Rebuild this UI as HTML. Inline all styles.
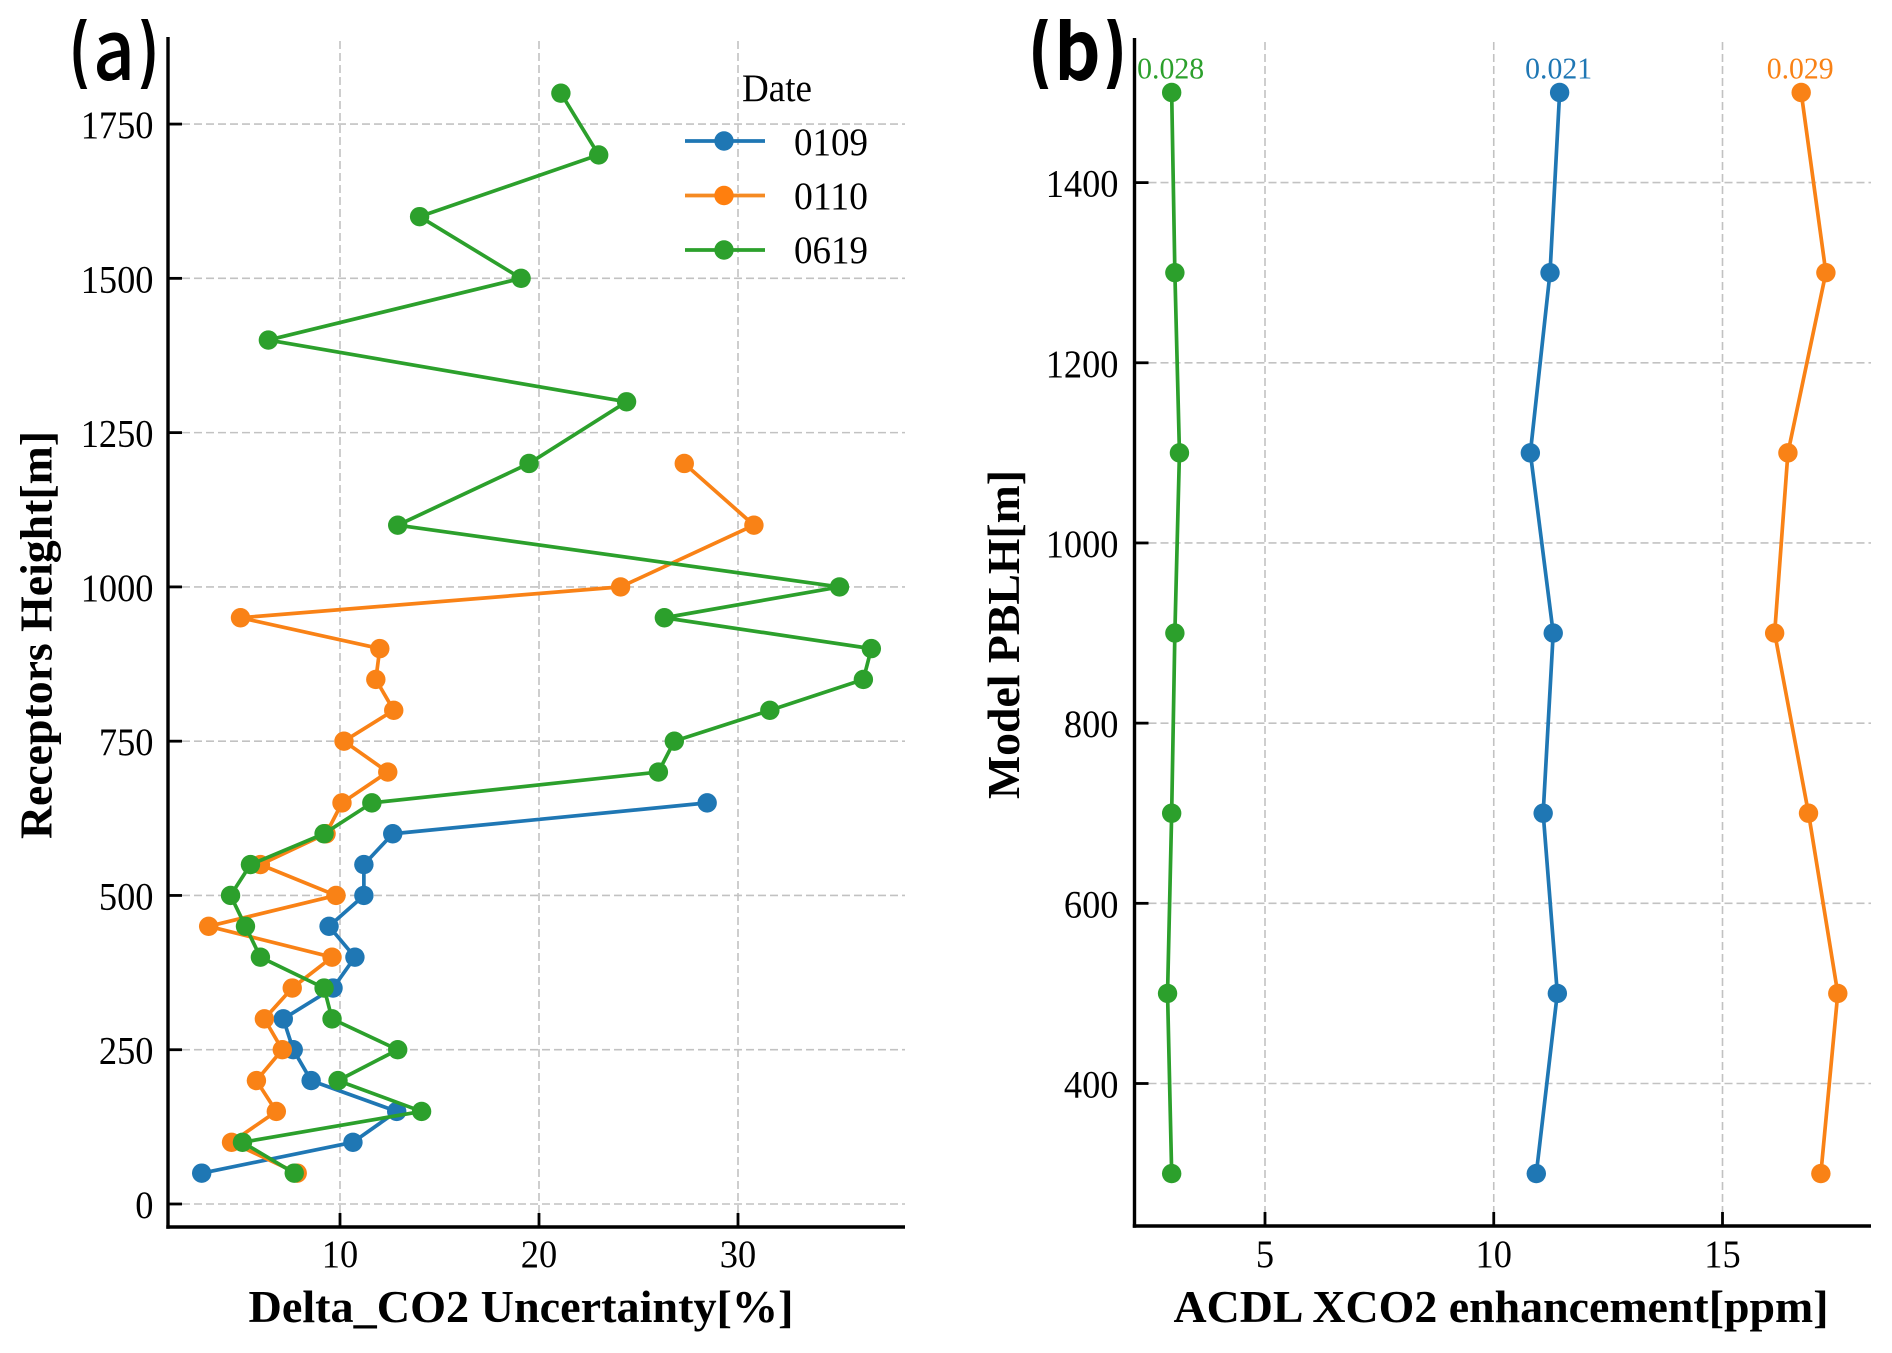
<!DOCTYPE html>
<html lang="en">
<head>
<meta charset="utf-8">
<title>Delta CO2 uncertainty and ACDL XCO2 enhancement profiles</title>
<style>
  html, body { margin: 0; padding: 0; background: #fff; }
  svg { display: block; }
  text { font-family: "Liberation Serif", serif; fill: #000; }
  .tick { font-size: 39px; }
  .axis-title { font-size: 46px; font-weight: bold; }
  .panel { font-family: "Noto Sans CJK SC", "Liberation Sans", sans-serif; font-size: 84px; }
  .legend { font-size: 39px; }
  .note { font-size: 31px; }
</style>
</head>
<body>
<svg id="fig" xmlns="http://www.w3.org/2000/svg" width="1892" height="1353" viewBox="0 0 1892 1353">
  <defs>
    <clipPath id="panel-label-clip"><rect x="0" y="19" width="1892" height="70"/></clipPath>
  </defs>
  <rect x="0" y="0" width="1892" height="1353" fill="#ffffff"/>
  <g id="panelA"></g>
  <g id="panelB"></g>

  <g clip-path="url(#panel-label-clip)">
    <text class="panel" style="font-weight:500" x="67" y="80" textLength="94" lengthAdjust="spacingAndGlyphs">(a)</text>
    <text class="panel" style="font-weight:700" x="1027" y="80" textLength="101" lengthAdjust="spacingAndGlyphs">(b)</text>
  </g>

  <text class="axis-title" x="248.5" y="1322" textLength="545" lengthAdjust="spacingAndGlyphs">Delta_CO2 Uncertainty[%]</text>
  <text class="axis-title" x="1173.5" y="1322" textLength="655" lengthAdjust="spacingAndGlyphs">ACDL XCO2 enhancement[ppm]</text>
  <text class="axis-title" transform="translate(51.5 839) rotate(-90)" textLength="408" lengthAdjust="spacingAndGlyphs">Receptors Height[m]</text>
  <text class="axis-title" transform="translate(1019 799) rotate(-90)" textLength="329" lengthAdjust="spacingAndGlyphs">Model PBLH[m]</text>

  <g>
    <text class="legend" x="742" y="101" textLength="70" lengthAdjust="spacingAndGlyphs">Date</text>
    <g>
      <line x1="685" y1="141" x2="765" y2="141" stroke="#1f77b4" stroke-width="3.7"/>
      <circle cx="724" cy="141" r="9.7" fill="#1f77b4"/>
      <text class="legend" x="794" y="155" textLength="74" lengthAdjust="spacingAndGlyphs">0109</text>
    </g>
    <g>
      <line x1="685" y1="195.5" x2="765" y2="195.5" stroke="#f58a22" stroke-width="3.7"/>
      <circle cx="724" cy="195.5" r="9.7" fill="#ff7f0e"/>
      <text class="legend" x="794" y="209" textLength="74" lengthAdjust="spacingAndGlyphs">0110</text>
    </g>
    <g>
      <line x1="685" y1="250" x2="765" y2="250" stroke="#2ca02c" stroke-width="3.7"/>
      <circle cx="724" cy="250" r="9.7" fill="#2ca02c"/>
      <text class="legend" x="794" y="263" textLength="74" lengthAdjust="spacingAndGlyphs">0619</text>
    </g>
  </g>
</svg>

<script>
// ---- Panel (a) data ----
var aHeights0109 = [650, 600, 550, 500, 450, 400, 350, 300, 250, 200, 150, 100, 50];
var aValues0109 = [28.45, 12.65, 11.2, 11.2, 9.45, 10.75, 9.65, 7.15, 7.65, 8.55, 12.85, 10.65, 3.05];
var aHeights0110 = [1200, 1100, 1000, 950, 900, 850, 800, 750, 700, 650, 600, 550, 500, 450, 400, 350, 300, 250, 200, 150, 100, 50];
var aValues0110 = [27.3, 30.8, 24.1, 5.0, 12.0, 11.8, 12.7, 10.2, 12.4, 10.1, 9.3, 6.0, 9.8, 3.4, 9.6, 7.6, 6.2, 7.1, 5.8, 6.8, 4.55, 7.85];
var aHeights0619 = [1800, 1700, 1600, 1500, 1400, 1300, 1200, 1100, 1000, 950, 900, 850, 800, 750, 700, 650, 600, 550, 500, 450, 400, 350, 300, 250, 200, 150, 100, 50];
var aValues0619 = [21.1, 23.0, 14.0, 19.1, 6.4, 24.4, 19.5, 12.9, 35.1, 26.3, 36.7, 36.3, 31.6, 26.8, 26.0, 11.6, 9.2, 5.5, 4.5, 5.25, 6.0, 9.2, 9.6, 12.9, 9.9, 14.1, 5.1, 7.7];
var aXTicks = [10, 20, 30];
var aYTicks = [0, 250, 500, 750, 1000, 1250, 1500, 1750];

// ---- Panel (b) data ----
var bHeights = [1500, 1300, 1100, 900, 700, 500, 300];
var bValues0109 = [11.44, 11.23, 10.8, 11.3, 11.08, 11.39, 10.93];
var bValues0110 = [16.72, 17.26, 16.43, 16.14, 16.88, 17.52, 17.15];
var bValues0619 = [2.96, 3.03, 3.13, 3.03, 2.96, 2.87, 2.96];
var bXTicks = [5, 10, 15];
var bYTicks = [400, 600, 800, 1000, 1200, 1400];
var bNote0109 = "0.021";
var bNote0110 = "0.029";
var bNote0619 = "0.028";

var NS = "http://www.w3.org/2000/svg";
var BLUE = "#1f77b4", ORANGE = "#f98216", GREEN = "#2ca02c";

function make(parent, tag, attrs, txt) {
  var n = document.createElementNS(NS, tag);
  for (var k in attrs) n.setAttribute(k, attrs[k]);
  if (txt !== undefined) n.textContent = txt;
  parent.appendChild(n);
  return n;
}

// Axis scales
function axX(v) { return 340 + (v - 10) * 19.9; }
function ayY(v) { return 1204 - v * 0.6171; }
function bxX(v) { return 1265 + (v - 5) * 45.75; }
function byY(v) { return 1083.5 - (v - 400) * 0.9009; }

function drawFrame(root, box, xTicks, yTicks, fx, fy) {
  var i, el, px, py;
  for (i = 0; i < xTicks.length; i++) {
    px = fx(xTicks[i]);
    el = make(root, "line", {x1: px, y1: box.top + 4, x2: px, y2: box.bottom, stroke: "#c2c2c2", "stroke-width": 1.6, "stroke-dasharray": "8 4"});
    
    
  }
  for (i = 0; i < yTicks.length; i++) {
    py = fy(yTicks[i]);
    el = make(root, "line", {x1: box.left + 14, y1: py, x2: box.right, y2: py, stroke: "#c2c2c2", "stroke-width": 1.6, "stroke-dasharray": "8 4"});
    
    
  }
}

function drawAxes(root, box, xTicks, yTicks, fx, fy, labelRight) {
  var i, el, px, py, s;
  el = make(root, "line", {x1: box.left, y1: box.top, x2: box.left, y2: box.bottom + 1.7, stroke: "#000", "stroke-width": 3.4});
  
  
  el = make(root, "line", {x1: box.left - 1.7, y1: box.bottom, x2: box.right, y2: box.bottom, stroke: "#000", "stroke-width": 3.4});
  
  
  for (i = 0; i < xTicks.length; i++) {
    px = fx(xTicks[i]);
    s = String(xTicks[i]);
    el = make(root, "line", {x1: px, y1: box.bottom, x2: px, y2: box.bottom - 14, stroke: "#000", "stroke-width": 2.8});
    
    
    el = make(root, "text", {"class": "tick", x: px, y: 1267, "text-anchor": "middle", textLength: s.length * 18.2, lengthAdjust: "spacingAndGlyphs"}, s);
    
    
  }
  for (i = 0; i < yTicks.length; i++) {
    py = fy(yTicks[i]);
    s = String(yTicks[i]);
    el = make(root, "line", {x1: box.left, y1: py, x2: box.left + 14, y2: py, stroke: "#000", "stroke-width": 2.8});
    
    
    el = make(root, "text", {"class": "tick", x: labelRight, y: py + 14, "text-anchor": "end", textLength: s.length * 18.2, lengthAdjust: "spacingAndGlyphs"}, s);
    
    
  }
}

function drawSeries(root, name, values, heights, color, fx, fy) {
  var g = make(root, "g", {});
  
  
  var pts = [];
  for (var i = 0; i < values.length; i++) pts.push(fx(values[i]).toFixed(2) + "," + fy(heights[i]).toFixed(2));
  var line = make(g, "polyline", {points: pts.join(" "), fill: "none", stroke: color, "stroke-width": 3.7, "stroke-linejoin": "round"});
  
  
  for (var j = 0; j < values.length; j++) {
    var dot = make(g, "circle", {cx: fx(values[j]), cy: fy(heights[j]), r: 9.7, fill: color});
    
    
  }
}

function drawNote(root, name, txt, value, height, color, fx, fy) {
  var t = make(root, "text", {"class": "note", x: fx(value) - 1, y: fy(height) - 14, "text-anchor": "middle", textLength: 67, lengthAdjust: "spacingAndGlyphs", style: "fill:" + color}, txt);
  
  
}

var panelA = document.getElementById("panelA");
var panelB = document.getElementById("panelB");
var boxA = {left: 168, right: 905, top: 37, bottom: 1227};
var boxB = {left: 1134.5, right: 1871, top: 38, bottom: 1226};

drawFrame(panelA, boxA, aXTicks, aYTicks, axX, ayY);
drawSeries(panelA, "0109", aValues0109, aHeights0109, BLUE, axX, ayY);
drawSeries(panelA, "0110", aValues0110, aHeights0110, ORANGE, axX, ayY);
drawSeries(panelA, "0619", aValues0619, aHeights0619, GREEN, axX, ayY);
drawAxes(panelA, boxA, aXTicks, aYTicks, axX, ayY, 153.5);

drawFrame(panelB, boxB, bXTicks, bYTicks, bxX, byY);
drawSeries(panelB, "0109", bValues0109, bHeights, BLUE, bxX, byY);
drawSeries(panelB, "0110", bValues0110, bHeights, ORANGE, bxX, byY);
drawSeries(panelB, "0619", bValues0619, bHeights, GREEN, bxX, byY);
drawAxes(panelB, boxB, bXTicks, bYTicks, bxX, byY, 1118.5);
drawNote(panelB, "0109", bNote0109, bValues0109[0], bHeights[0], BLUE, bxX, byY);
drawNote(panelB, "0110", bNote0110, bValues0110[0], bHeights[0], ORANGE, bxX, byY);
drawNote(panelB, "0619", bNote0619, bValues0619[0], bHeights[0], GREEN, bxX, byY);
</script>
</body>
</html>
